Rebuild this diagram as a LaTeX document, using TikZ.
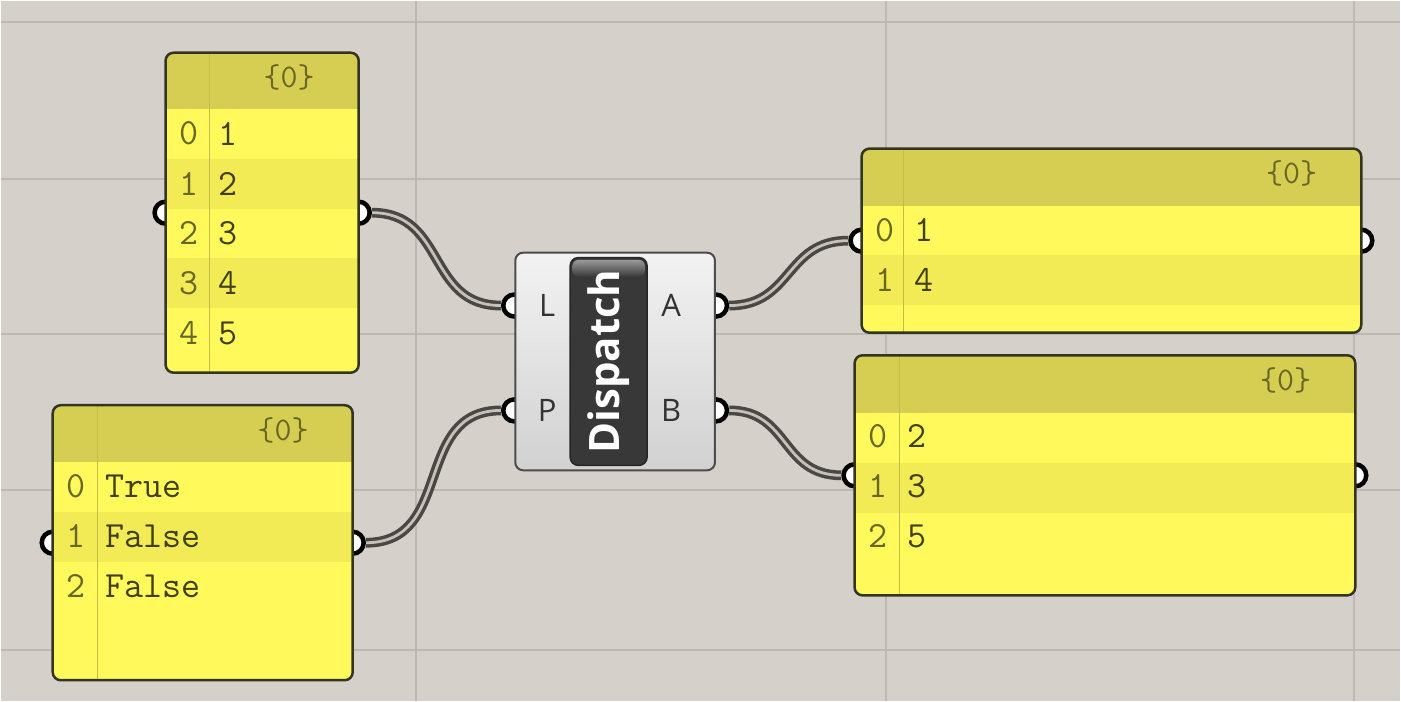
\documentclass[tikz,border=0pt]{standalone}
\usepackage{fontspec}
\usepackage{tikz}
\newfontfamily\uifont{Open Sans}
\definecolor{canvas}{RGB}{213,208,201}
\definecolor{gridcol}{RGB}{189,184,178}
\definecolor{ylw}{RGB}{255,249,92}
\definecolor{ylwdark}{RGB}{242,235,86}
\definecolor{ylwhead}{RGB}{214,206,82}
\definecolor{olivetxt}{RGB}{64,64,20}
\definecolor{oliveidx}{RGB}{104,104,36}
\definecolor{rimcol}{RGB}{52,52,34}
\definecolor{colline}{RGB}{196,188,74}
\definecolor{wiredark}{RGB}{74,71,68}
\definecolor{wirelight}{RGB}{196,192,186}
\pgfdeclarelayer{background}
\pgfdeclarelayer{wires}
\pgfdeclarelayer{grips}
\pgfsetlayers{background,wires,grips,main}
\tikzstyle{panel} = [rectangle, rounded corners=8pt, fill=ylw, inner sep=0pt]
\tikzstyle{rim} = [draw=rimcol, line width=2.5pt, rounded corners=8pt]
\tikzstyle{headband} = [fill=ylwhead]
\tikzstyle{stripe} = [fill=ylwdark]
\tikzstyle{divider} = [draw=colline, line width=1.5pt]
\tikzstyle{idx} = [text width=30pt, align=center, inner sep=0pt, text=oliveidx,
font=\ttfamily\fontsize{37}{44}\selectfont]
\tikzstyle{val} = [text width=120pt, align=left, inner sep=0pt, text=olivetxt,
font=\ttfamily\fontsize{37}{44}\selectfont]
\tikzstyle{headtxt} = [anchor=east, inner sep=0pt, text=oliveidx,
font=\ttfamily\fontsize{33}{38}\selectfont]
\tikzstyle{grip} = [circle, minimum size=22pt, inner sep=0pt, draw=black, fill=white, line width=4.5pt]
\tikzstyle{wire} = [draw=wiredark, line width=3.5pt, double=wirelight, double distance=2.8pt]
\tikzstyle{comp} = [rectangle, rounded corners=8pt, 
minimum width=200pt, 
minimum height=218pt, 
draw=black!70, line width=2pt, 
top color=black!5, bottom color=black!18]
\tikzstyle{capsule} = [rectangle, rounded corners=8pt, 
minimum width=77pt, 
minimum height=208pt, 
fill=black!78, draw=black!85, line width=1.5pt]
\tikzstyle{port} = [text=black!80, inner sep=0pt, font=\uifont\fontsize{31}{36}\selectfont]
\tikzstyle{gridline} = [draw=gridcol, line width=2pt]

\begin{document}
\begin{tikzpicture}[x=1pt, y=-1pt, node distance=50pt]
    \begin{pgfonlayer}{background}
    \fill [canvas] (0,0) rectangle (1401,701);
    \draw [gridline] (0,21) -- (1401,21);
    \draw [gridline] (0,178) -- (1401,178);
    \draw [gridline] (0,333) -- (1401,333);
    \draw [gridline] (0,490) -- (1401,490);
    \draw [gridline] (0,650) -- (1401,650);
    \draw [gridline] (416,0) -- (416,701);
    \draw [gridline] (886,0) -- (886,701);
    \draw [gridline] (1355,0) -- (1355,701);
    \end{pgfonlayer}
    \useasboundingbox (0,0) rectangle (1401,701);

    % list of numbers
    \node (nums) [panel, minimum width=193pt, minimum height=320pt] at (261.5,212) {};
    \begin{scope}
      \clip [rounded corners=8pt] (nums.north west) rectangle (nums.south east);
      \fill [headband] (nums.north west) rectangle ([shift={(0,56)}]nums.north east);
      \fill [stripe] ([shift={(0,106)}]nums.north west) rectangle ([shift={(0,156)}]nums.north east);
      \fill [stripe] ([shift={(0,206)}]nums.north west) rectangle ([shift={(0,256)}]nums.north east);
      \draw [divider] ([shift={(44,0)}]nums.north west) -- ([shift={(44,0)}]nums.south west);
    \end{scope}
    \draw [rim] (nums.north west) rectangle (nums.south east);
    \node (numshead) [headtxt] at ([shift={(-44,25)}]nums.north east) {\{0\}};
    \node (numsi0) [idx] at ([shift={(23,81)}]nums.north west) {0};
    \node (numsi1) [idx, below of=numsi0] {1};
    \node (numsi2) [idx, below of=numsi1] {2};
    \node (numsi3) [idx, below of=numsi2] {3};
    \node (numsi4) [idx, below of=numsi3] {4};
    \node (numsv0) [val, right of=numsi0, xshift=40pt] {1};
    \node (numsv1) [val, below of=numsv0] {2};
    \node (numsv2) [val, below of=numsv1] {3};
    \node (numsv3) [val, below of=numsv2] {4};
    \node (numsv4) [val, below of=numsv3] {5};

    % list of booleans
    \node (mask) [panel, minimum width=300pt, minimum height=275pt] at (202,542.5) {};
    \begin{scope}
      \clip [rounded corners=8pt] (mask.north west) rectangle (mask.south east);
      \fill [headband] (mask.north west) rectangle ([shift={(0,57)}]mask.north east);
      \fill [stripe] ([shift={(0,107)}]mask.north west) rectangle ([shift={(0,157)}]mask.north east);
      \draw [divider] ([shift={(45,0)}]mask.north west) -- ([shift={(45,0)}]mask.south west);
    \end{scope}
    \draw [rim] (mask.north west) rectangle (mask.south east);
    \node (maskhead) [headtxt] at ([shift={(-44,25)}]mask.north east) {\{0\}};
    \node (maski0) [idx] at ([shift={(23,81)}]mask.north west) {0};
    \node (maski1) [idx, below of=maski0] {1};
    \node (maski2) [idx, below of=maski1] {2};
    \node (maskv0) [val, right of=maski0, xshift=40pt] {True};
    \node (maskv1) [val, below of=maskv0] {False};
    \node (maskv2) [val, below of=maskv1] {False};

    % first output list
    \node (outA) [panel, minimum width=500pt, minimum height=184pt] at (1112,240) {};
    \begin{scope}
      \clip [rounded corners=8pt] (outA.north west) rectangle (outA.south east);
      \fill [headband] (outA.north west) rectangle ([shift={(0,57)}]outA.north east);
      \fill [stripe] ([shift={(0,107)}]outA.north west) rectangle ([shift={(0,157)}]outA.north east);
      \draw [divider] ([shift={(42,0)}]outA.north west) -- ([shift={(42,0)}]outA.south west);
    \end{scope}
    \draw [rim] (outA.north west) rectangle (outA.south east);
    \node (outAhead) [headtxt] at ([shift={(-44,25)}]outA.north east) {\{0\}};
    \node (outAi0) [idx] at ([shift={(23,82)}]outA.north west) {0};
    \node (outAi1) [idx, below of=outAi0] {1};
    \node (outAv0) [val, right of=outAi0, xshift=40pt] {1};
    \node (outAv1) [val, below of=outAv0] {4};

    % second output list
    \node (outB) [panel, minimum width=501pt, minimum height=240pt] at (1105.5,475) {};
    \begin{scope}
      \clip [rounded corners=8pt] (outB.north west) rectangle (outB.south east);
      \fill [headband] (outB.north west) rectangle ([shift={(0,58)}]outB.north east);
      \fill [stripe] ([shift={(0,108)}]outB.north west) rectangle ([shift={(0,158)}]outB.north east);
      \draw [divider] ([shift={(45,0)}]outB.north west) -- ([shift={(45,0)}]outB.south west);
    \end{scope}
    \draw [rim] (outB.north west) rectangle (outB.south east);
    \node (outBhead) [headtxt] at ([shift={(-44,25)}]outB.north east) {\{0\}};
    \node (outBi0) [idx] at ([shift={(23,81)}]outB.north west) {0};
    \node (outBi1) [idx, below of=outBi0] {1};
    \node (outBi2) [idx, below of=outBi1] {2};
    \node (outBv0) [val, right of=outBi0, xshift=40pt] {2};
    \node (outBv1) [val, below of=outBv0] {3};
    \node (outBv2) [val, below of=outBv1] {5};

    % component
    \node (disp) [comp] at (615,361) {};
    \node (cap) [capsule] at (608.5,361) {};
    \shade [top color=black!40, bottom color=black!78, rounded corners=6pt]
      ([shift={(3,3)}]cap.north west) rectangle ([shift={(-3,20)}]cap.north east);
    \node (title) [rotate=90, text=white, font=\uifont\bfseries\fontsize{42}{48}\selectfont] at (cap.center) {Dispatch};
    \node (lblL) [port] at (547,305) {L};
    \node (lblP) [port] at (547,410) {P};
    \node (lblA) [port] at (671,305) {A};
    \node (lblB) [port] at (671,410) {B};

    \begin{pgfonlayer}{grips}
    \node (numsin) [grip] at (nums.west) {};
    \node (numsout) [grip] at (nums.east) {};
    \node (maskin) [grip] at (mask.west) {};
    \node (maskout) [grip] at (mask.east) {};
    \node (portL) [grip] at (disp.west |- lblL) {};
    \node (portP) [grip] at (disp.west |- lblP) {};
    \node (portA) [grip] at (disp.east |- lblA) {};
    \node (portB) [grip] at (disp.east |- lblB) {};
    \node (outAin) [grip] at (outA.west) {};
    \node (outAout) [grip] at (outA.east) {};
    \node (outBin) [grip] at (outB.west) {};
    \node (outBout) [grip] at (outB.east) {};
    \end{pgfonlayer}

    \begin{pgfonlayer}{wires}
    \draw [wire] (numsout) to[out=0, in=180, looseness=1.2] (portL);
    \draw [wire] (maskout) to[out=0, in=180, looseness=1.2] (portP);
    \draw [wire] (portA) to[out=0, in=180, looseness=1.2] (outAin);
    \draw [wire] (portB) to[out=0, in=180, looseness=1.2] (outBin);
    \end{pgfonlayer}
\end{tikzpicture}
\end{document}
